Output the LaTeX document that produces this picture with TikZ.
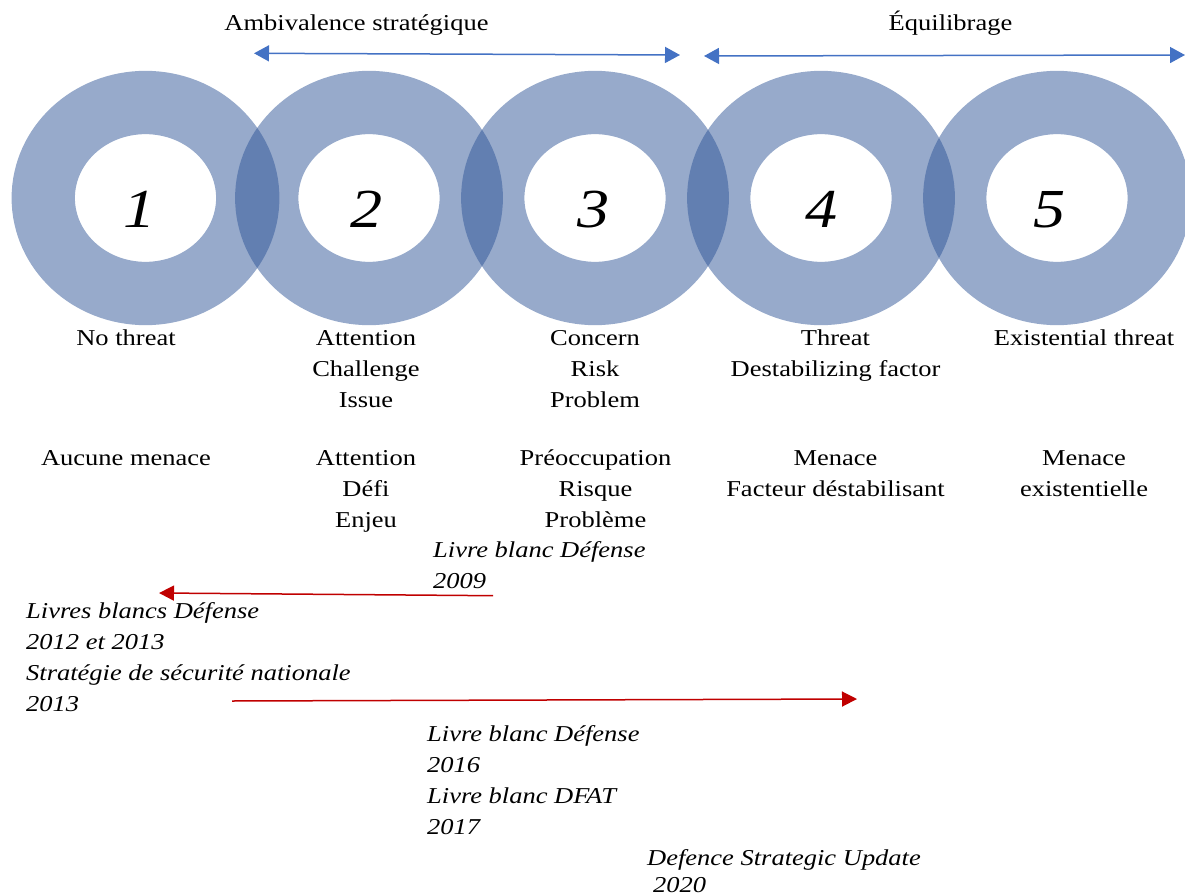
\documentclass[tikz,border=0pt]{standalone}
\usepackage{fontspec}
\setmainfont{Liberation Serif}[FakeStretch=1.167]
\usetikzlibrary{arrows.meta}
\definecolor{ringcol}{RGB}{47,85,151}
\definecolor{bluearr}{RGB}{68,114,196}
\definecolor{redarr}{RGB}{192,0,0}
\newcommand{\blk}[2]{\begin{tabular}[t]{@{}#1@{}}#2\end{tabular}}
\begin{document}
\begin{tikzpicture}[x=1pt,y=-1pt,
  ring/.style={draw=ringcol, draw opacity=0.5, line width=63.3pt},
  numlbl/.style={font=\fontsize{55}{55}\selectfont\itshape, anchor=base, inner sep=0pt},
  lbl/.style={font=\fontsize{22.7}{31}\selectfont, anchor=base, inner sep=0pt},
  refblk/.style={font=\fontsize{22.7}{31}\selectfont\itshape, anchor=base west, inner sep=0pt},
  barrow/.style={draw=bluearr, line width=1.5pt, {Triangle[length=15pt,width=16pt]}-{Triangle[length=15pt,width=16pt]}},
  rarrow/.style={draw=redarr, line width=1.5pt, -{Triangle[length=15pt,width=15pt]}}
]
\useasboundingbox (0,0) rectangle (1185,896);
% rings
\foreach \i/\x in {1/145.5, 2/369, 3/595, 4/821, 5/1057}{
  \coordinate (c\i) at (\x,198);
  \draw[ring] (c\i) ellipse [x radius=102.25pt, y radius=95.5pt];
}
% numbers
\node[numlbl] (n1) at (140,227) {1};
\node[numlbl] (n2) at (367,227) {2};
\node[numlbl] (n3) at (594,227) {3};
\node[numlbl] (n4) at (821.5,227) {4};
\node[numlbl] (n5) at (1050,227) {5};
% top labels and arrows
\node[lbl] (amb) at (356.5,31) {Ambivalence stratégique};
\node[lbl] (equ) at (950.5,31) {Équilibrage};
\coordinate (a1l) at (254,53.3);
\coordinate (a1r) at (680,55);
\draw[barrow] (a1l) -- (a1r);
\coordinate (a2l) at (704,56);
\coordinate (a2r) at (1185,55);
\draw[barrow] (a2l) -- (a2r);
% English labels
\node[lbl] (en1) at (126,345) {\blk{c}{No threat}};
\node[lbl] (en2) at (366,345) {\blk{c}{Attention\\Challenge\\Issue}};
\node[lbl] (en3) at (595,345) {\blk{c}{Concern\\Risk\\Problem}};
\node[lbl] (en4) at (835.5,345) {\blk{c}{Threat\\Destabilizing factor}};
\node[lbl] (en5) at (1084,345) {\blk{c}{Existential threat}};
% French labels
\node[lbl] (fr1) at (126,465) {\blk{c}{Aucune menace}};
\node[lbl] (fr2) at (366,465) {\blk{c}{Attention\\Défi\\Enjeu}};
\node[lbl] (fr3) at (595.5,465) {\blk{c}{Préoccupation\\Risque\\Problème}};
\node[lbl] (fr4) at (835.5,465) {\blk{c}{Menace\\Facteur déstabilisant}};
\node[lbl] (fr5) at (1084,465) {\blk{c}{Menace\\existentielle}};
% references
\node[refblk] (r2009) at (433,557) {\blk{l}{Livre blanc Défense\\2009}};
\node[refblk] (r2012) at (26,618) {\blk{l}{Livres blancs Défense\\2012 et 2013\\Stratégie de sécurité nationale\\2013}};
\node[refblk] (r2016) at (427,741) {\blk{l}{Livre blanc Défense\\2016\\Livre blanc DFAT\\2017}};
\node[refblk] (r2020) at (647,865) {\blk{l}{Defence Strategic Update\\[-4pt]\hspace{6pt}2020}};
% red arrows
\coordinate (p1s) at (493,595.7);
\coordinate (p1e) at (159,593);
\draw[rarrow] (p1s) -- (p1e);
\coordinate (p2s) at (232,701);
\coordinate (p2e) at (857,699);
\draw[rarrow] (p2s) -- (p2e);
\end{tikzpicture}
\end{document}
